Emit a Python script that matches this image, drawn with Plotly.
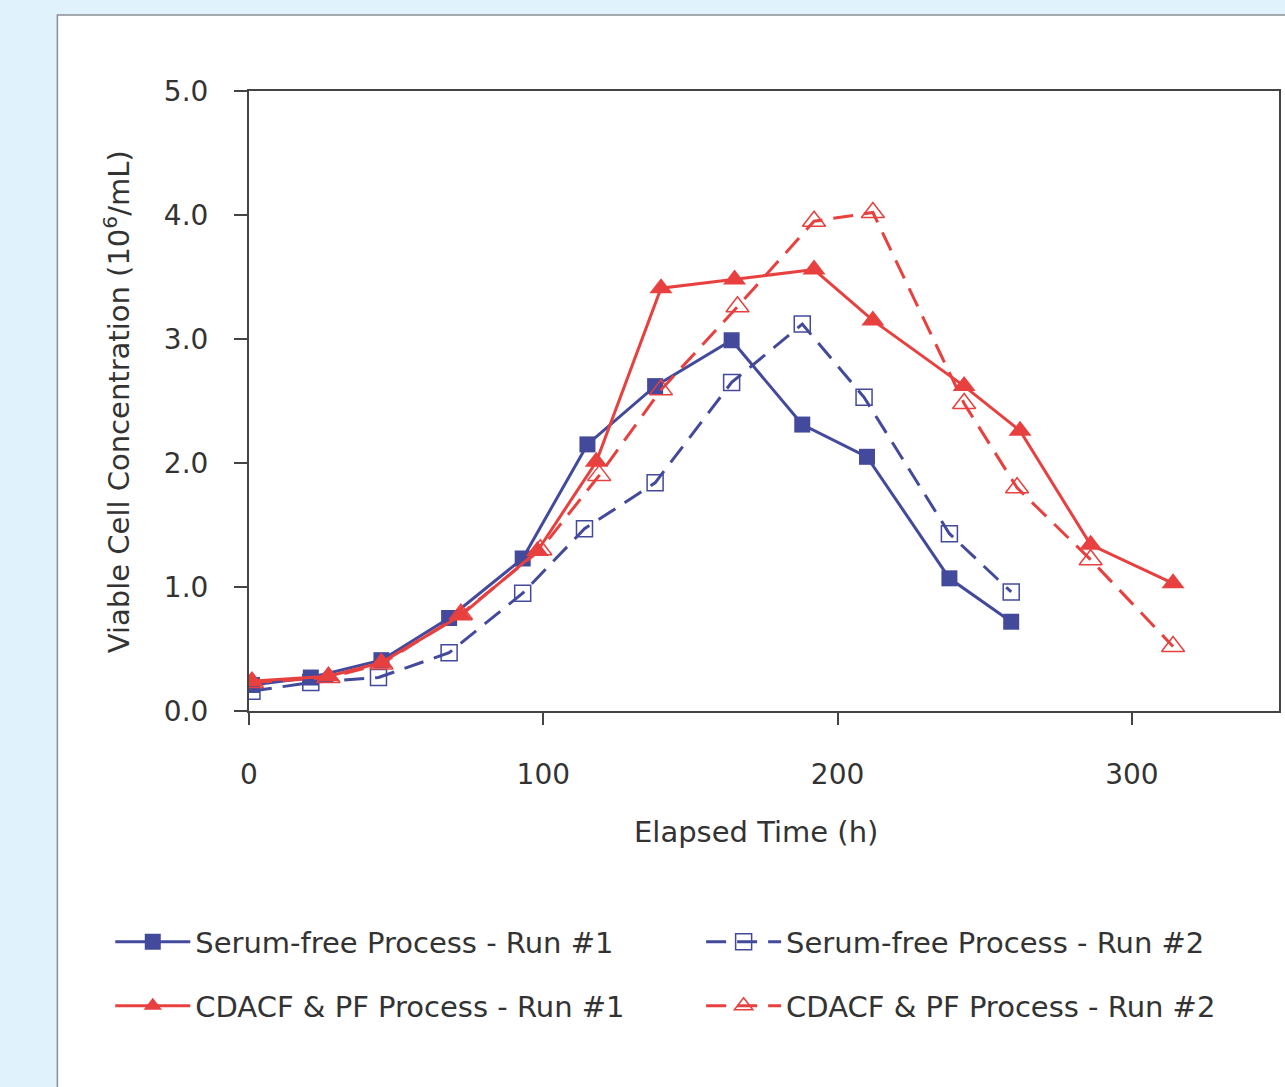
import plotly.graph_objects as go

# ---- data ----
sf1_x = [1, 21, 45, 68, 93, 115, 138, 164, 188, 210, 238, 259]
sf1_y = [0.21, 0.27, 0.41, 0.75, 1.23, 2.15, 2.62, 2.99, 2.31, 2.05, 1.07, 0.72]

sf2_x = [1, 21, 44, 68, 93, 114, 138, 164, 188, 209, 238, 259]
sf2_y = [0.16, 0.23, 0.27, 0.47, 0.95, 1.47, 1.84, 2.65, 3.12, 2.53, 1.43, 0.96]

cd1_x = [1, 27, 45, 72, 98, 118, 140, 165, 192, 212, 243, 262, 286, 314]
cd1_y = [0.24, 0.28, 0.39, 0.77, 1.29, 2.01, 3.41, 3.48, 3.56, 3.15, 2.62, 2.26, 1.34, 1.03]

cd2_x = [1, 27, 45, 72, 99, 119, 140, 166, 192, 212, 243, 261, 286, 314]
cd2_y = [0.23, 0.27, 0.38, 0.78, 1.30, 1.90, 2.59, 3.26, 3.95, 4.02, 2.48, 1.80, 1.22, 0.52]

names = ["Serum-free Process - Run #1", "Serum-free Process - Run #2",
         "CDACF & PF Process - Run #1", "CDACF & PF Process - Run #2"]

x_ticks = [0, 100, 200, 300]
y_ticks = [0.0, 1.0, 2.0, 3.0, 4.0, 5.0]

BLUE = "#434a9c"
RED = "#e8403f"
FONT = "DejaVu Sans"
TXT = "#333333"
BG = "#e0f2fb"

fig = go.Figure()
fig.add_trace(go.Scatter(x=sf1_x, y=sf1_y, name=names[0], mode="lines+markers",
                         line=dict(color=BLUE, width=3),
                         marker=dict(symbol="square", size=16, color=BLUE),
                         legend="legend"))
fig.add_trace(go.Scatter(x=sf2_x, y=sf2_y, name=names[1], mode="lines+markers",
                         line=dict(color=BLUE, width=3, dash="20px,11px"),
                         marker=dict(symbol="square-open", size=16, color=BLUE, line=dict(width=1.5)),
                         legend="legend2"))
fig.add_trace(go.Scatter(x=cd1_x, y=cd1_y, name=names[2], mode="lines+markers",
                         line=dict(color=RED, width=3),
                         marker=dict(symbol="triangle-up", size=20, color=RED),
                         legend="legend3"))
fig.add_trace(go.Scatter(x=cd2_x, y=cd2_y, name=names[3], mode="lines+markers",
                         line=dict(color=RED, width=3, dash="20px,11px"),
                         marker=dict(symbol="triangle-up-open", size=20, color=RED, line=dict(width=1.5)),
                         legend="legend4"))

W, H = 1285, 1087
L, R, T, B = 249, 4, 91, 376
pw = W - L - R
ph = H - T - B

def px(x):
    return (x - L) / pw

def py(y):
    return (H - B - y) / ph

leg_common = dict(orientation="h", xanchor="left", yanchor="middle", itemwidth=75,
                  bgcolor="rgba(0,0,0,0)", font=dict(size=29, color=TXT, family=FONT))

LX1, LX2 = 110, 702
LY1, LY2 = 942, 1006

fig.update_layout(
    width=W, height=H,
    margin=dict(l=L, r=R, t=T, b=B),
    paper_bgcolor=BG,
    plot_bgcolor="white",
    font=dict(family=FONT, size=28, color=TXT),
    showlegend=True,
    legend=dict(x=px(LX1), y=py(LY1), **leg_common),
    legend2=dict(x=px(LX2), y=py(LY1), **leg_common),
    legend3=dict(x=px(LX1), y=py(LY2), **leg_common),
    legend4=dict(x=px(LX2), y=py(LY2), **leg_common),
    shapes=[dict(type="rect", xref="paper", yref="paper", layer="below",
                 x0=px(57), x1=px(1300), y0=py(1200), y1=py(15),
                 fillcolor="white", line=dict(color="#8a8f95", width=1.5))],
    annotations=[
        dict(text="Elapsed Time (h)", xref="paper", yref="paper", x=px(757), y=py(832),
             showarrow=False, xanchor="center", yanchor="middle",
             font=dict(size=29, color=TXT, family=FONT)),
        dict(text="Viable Cell Concentration (10<sup>6</sup>/mL)", xref="paper", yref="paper",
             x=px(117), y=py(402), textangle=-90, showarrow=False,
             xanchor="center", yanchor="middle",
             font=dict(size=29, color=TXT, family=FONT)),
    ],
)

fig.update_xaxes(range=[0, 350], tickvals=x_ticks, ticktext=[str(v) for v in x_ticks],
                 ticks="outside", ticklen=12, tickwidth=2, tickcolor="#444",
                 showline=True, linecolor="#444", linewidth=2, mirror=True,
                 showgrid=False, zeroline=False, ticklabelstandoff=25,
                 tickfont=dict(size=28, color=TXT, family=FONT))
fig.update_yaxes(range=[0, 5], tickvals=y_ticks, ticktext=[f"{v:.1f}" for v in y_ticks],
                 ticks="outside", ticklen=13, tickwidth=2, tickcolor="#444",
                 showline=True, linecolor="#444", linewidth=2, mirror=True,
                 showgrid=False, zeroline=False, ticklabelstandoff=20,
                 tickfont=dict(size=28, color=TXT, family=FONT))

fig.write_html("out.html", config={"displayModeBar": False},
               post_script="document.body.style.margin='0';document.body.style.background='%s';" % BG)
